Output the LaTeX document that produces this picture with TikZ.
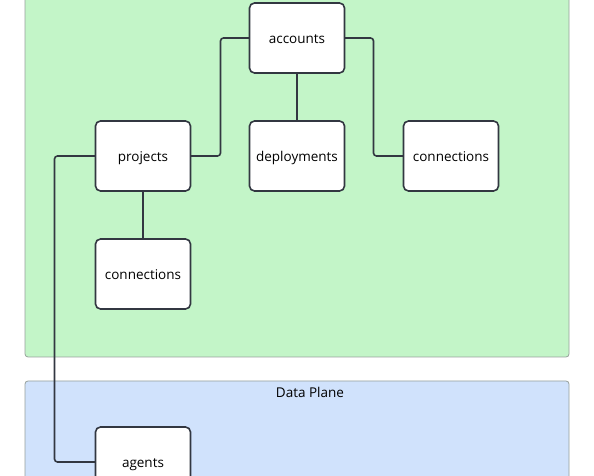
\documentclass[tikz,border=0pt]{standalone}
\usepackage{fontspec}
\setmainfont{Open Sans}
\usepackage{tikz}
\usetikzlibrary{positioning}
\definecolor{planegreen}{RGB}{195,245,200}
\definecolor{planeblue}{RGB}{208,226,252}
\definecolor{planeline}{RGB}{150,160,155}
\definecolor{boxline}{RGB}{50,55,65}
\tikzset{
    table/.style={
           rectangle,
           rounded corners=5pt,
           draw=boxline, line width=1.6pt,
           fill=white,
           minimum width=95pt,
           minimum height=70pt,
           inner sep=0pt,
           outer sep=0pt,
           text height=12pt,
           text depth=1pt,
           font=\fontsize{13.5}{15}\selectfont,
           text centered,
           },
    plane/.style={
           rounded corners=3pt,
           draw=planeline, line width=0.8pt,
           },
    link/.style={
           draw=boxline, line width=1.6pt,
           rounded corners=3pt,
           },
}

\begin{document}
\begin{tikzpicture}
        \useasboundingbox (0,0) rectangle (594pt,476pt);
        \clip (0,0) rectangle (594pt,476pt);

        % CONTROL PLANE (top is cut off)
        \path[plane, fill=planegreen] (25pt,119pt) rectangle (569pt,490pt);

        % DATA PLANE (bottom is cut off)
        \path[plane, fill=planeblue] (25pt,-20pt) rectangle (569pt,95pt);
        \node[font=\fontsize{13.5}{15}\selectfont] (DP_TITLE) at (310pt,84pt) {Data Plane};

        % TABLE ACCOUNTS
        \node[table] (CP_ACCOUNTS) at (297pt,438pt) {accounts};

        % TABLE DEPLOYMENTS
        \node[table,
            below=48pt of CP_ACCOUNTS] (CP_DEPLOYMENTS) {deployments};

        % TABLE PROJECTS
        \node[table,
            left=59pt of CP_DEPLOYMENTS] (CP_PROJECTS) {projects};

        % TABLE CONNECTIONS (accounts)
        \node[table,
            right=59pt of CP_DEPLOYMENTS] (CP_CONNECTIONS) {connections};

        % TABLE CONNECTIONS (projects)
        \node[table,
            below=48pt of CP_PROJECTS] (CP_PROJ_CONNECTIONS) {connections};

        % TABLE AGENTS
        \node[table,
            below=236pt of CP_PROJECTS] (DP_AGENTS) {agents};

        % links between the tables
        \draw[link] (CP_ACCOUNTS.west) -- ++(-29pt,0) |- (CP_PROJECTS.east);
        \draw[link] (CP_ACCOUNTS.south) -- (CP_DEPLOYMENTS.north);
        \draw[link] (CP_ACCOUNTS.east) -- ++(29pt,0) |- (CP_CONNECTIONS.west);
        \draw[link] (CP_PROJECTS.south) -- (CP_PROJ_CONNECTIONS.north);
        \draw[link] (CP_PROJECTS.west) -- ++(-41pt,0) |- (DP_AGENTS.west);
\end{tikzpicture}
\end{document}
